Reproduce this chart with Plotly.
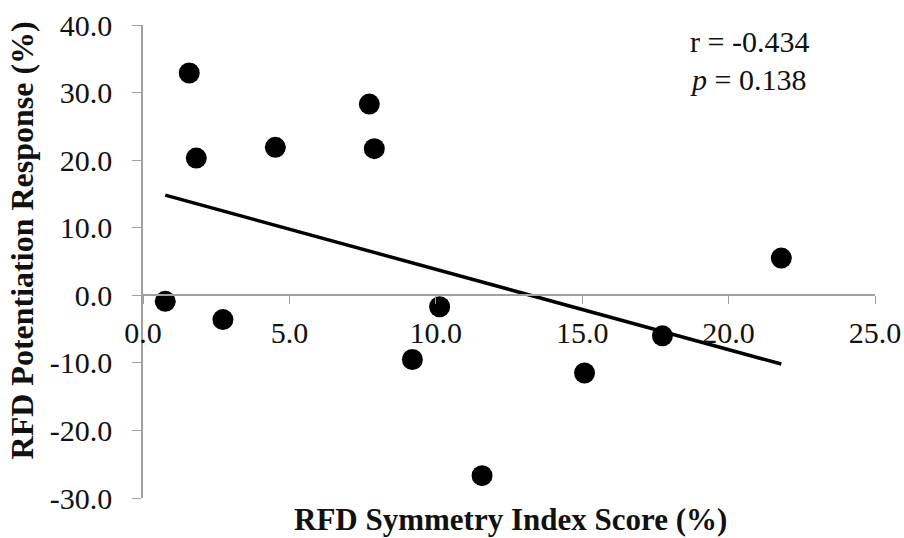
import numpy as np
import plotly.graph_objects as go

# RFD symmetry index score (%) vs RFD potentiation response (%)
symmetry_index = [0.76, 1.58, 1.82, 2.73, 4.52, 7.73, 7.90, 9.20, 10.13, 11.58, 15.08, 17.74, 21.80]
potentiation = [-0.9, 32.9, 20.3, -3.6, 21.9, 28.3, 21.7, -9.5, -1.7, -26.7, -11.5, -6.0, 5.5]

x_ticks = [0, 5, 10, 15, 20, 25]
x_tick_text = ["0.0", "5.0", "10.0", "15.0", "20.0", "25.0"]
y_ticks = [-30, -20, -10, 0, 10, 20, 30, 40]
y_tick_text = ["-30.0", "-20.0", "-10.0", "0.0", "10.0", "20.0", "30.0", "40.0"]

r_text = "r = -0.434"
p_text = "<i>p</i> = 0.138"

# least-squares trend line over the observed range
slope, intercept = np.polyfit(symmetry_index, potentiation, 1)
fit_x = np.array([min(symmetry_index), max(symmetry_index)])
fit_y = slope * fit_x + intercept

FONT = "Liberation Serif"
AXIS_GREY = "#a0a0a0"
TEXT = "#111111"
TICK_SIZE = 30

fig = go.Figure()
fig.add_trace(go.Scatter(
    x=fit_x, y=fit_y, mode="lines",
    line=dict(color="black", width=3.5), hoverinfo="skip",
))
fig.add_trace(go.Scatter(
    x=symmetry_index, y=potentiation, mode="markers",
    marker=dict(color="black", size=21),
))

fig.update_layout(
    width=904, height=538,
    margin=dict(l=143, r=29, t=25, b=40, autoexpand=False),
    paper_bgcolor="white", plot_bgcolor="white",
    showlegend=False,
    font=dict(family=FONT, color=TEXT, size=TICK_SIZE),
    xaxis=dict(
        range=[0, 25], tickvals=x_ticks, ticktext=x_tick_text,
        showgrid=False, zeroline=False, automargin=False,
        showline=True, linecolor=AXIS_GREY, linewidth=1.5,
        ticks="outside", ticklen=8, tickwidth=1, tickcolor=AXIS_GREY,
        anchor="free", position=30 / 70, ticklabelstandoff=3,
        tickfont=dict(family=FONT, size=TICK_SIZE, color=TEXT),
    ),
    yaxis=dict(
        range=[-30, 40], tickvals=y_ticks, ticktext=y_tick_text,
        showgrid=False, zeroline=False, automargin=False,
        showline=True, linecolor=AXIS_GREY, linewidth=1.5,
        ticks="outside", ticklen=9, tickwidth=1, tickcolor=AXIS_GREY,
        ticklabelstandoff=14,
        tickfont=dict(family=FONT, size=TICK_SIZE, color=TEXT),
    ),
    annotations=[
        dict(text="<b>RFD Potentiation Response (%)</b>", textangle=-90,
             xref="paper", yref="paper", x=-0.165, y=0.545,
             xanchor="center", yanchor="middle", showarrow=False,
             font=dict(family=FONT, size=32, color=TEXT)),
        dict(text="<b>RFD Symmetry Index Score (%)</b>",
             xref="paper", yref="paper", x=0.502, y=-0.046,
             xanchor="center", yanchor="middle", showarrow=False,
             font=dict(family=FONT, size=31, color=TEXT)),
        dict(text=r_text, xref="paper", yref="paper",
             x=(688 - 143) / 732, y=(497.5 - 41) / 472.5,
             xanchor="left", yanchor="middle", showarrow=False,
             font=dict(family=FONT, size=30, color=TEXT)),
        dict(text=p_text, xref="paper", yref="paper",
             x=(688 - 143) / 732, y=(497.5 - 79) / 472.5,
             xanchor="left", yanchor="middle", showarrow=False,
             font=dict(family=FONT, size=30, color=TEXT)),
    ],
)

fig.write_html("out.html")
